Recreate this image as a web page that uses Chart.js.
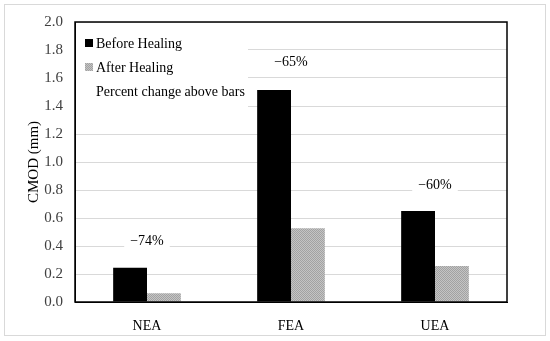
<!DOCTYPE html>
<html>
<head>
<meta charset="utf-8">
<script src="https://cdn.jsdelivr.net/npm/chart.js@4"></script>
<style>
  html, body { margin: 0; padding: 0; background: #fff; }
  #wrap { width: 550px; height: 341px; }
</style>
</head>
<body>
<div id="wrap"><canvas id="cmodChart" width="550" height="341"></canvas></div>
<script>
const categories = ['NEA', 'FEA', 'UEA'];
const beforeHealing = [0.245, 1.515, 0.65];
const afterHealing = [0.062, 0.526, 0.257];
const percentChange = ['\u221274%', '\u221265%', '\u221260%'];
const percentLabelY = [0.43, 1.71, 0.83];
const yTicks = [0, 0.2, 0.4, 0.6, 0.8, 1.0, 1.2, 1.4, 1.6, 1.8, 2.0];

const FONT = '"Liberation Serif", "Times New Roman", serif';

// checkered gray fill, like the dotted fill in the original
function makeDots() {
    const c = document.createElement('canvas');
    c.width = 2; c.height = 2;
    const g = c.getContext('2d');
    g.fillStyle = '#c4c4c4';
    g.fillRect(0, 0, 2, 2);
    g.fillStyle = '#a2a2a2';
    g.fillRect(0, 0, 1, 1);
    g.fillRect(1, 1, 1, 1);
    return g.createPattern(c, 'repeat');
}
const dots = makeDots();

const framePlugin = {
    id: 'frame',
    beforeDraw(chart) {
        const ctx = chart.ctx;
        ctx.save();
        ctx.fillStyle = '#fff';
        ctx.fillRect(0, 0, chart.width, chart.height);
        ctx.strokeStyle = '#d9d9d9';
        ctx.lineWidth = 1;
        ctx.strokeRect(4.5, 4.5, 541, 331);
        ctx.restore();
    },
    afterDatasetsDraw(chart) {
        const ctx = chart.ctx;
        const a = chart.chartArea;
        const y = chart.scales.y;
        const x = chart.scales.x;
        ctx.save();
        ctx.font = '14px ' + FONT;
        ctx.textBaseline = 'middle';

        // percent change labels, white box behind so grid lines break
        ctx.textAlign = 'center';
        percentChange.forEach((txt, i) => {
            const px = x.getPixelForValue(i);
            const py = y.getPixelForValue(percentLabelY[i]);
            const w = ctx.measureText(txt).width;
            ctx.fillStyle = '#fff';
            ctx.fillRect(px - w / 2 - 6, py - 8, w + 12, 16);
            ctx.fillStyle = '#000';
            ctx.fillText(txt, px, py);
        });

        // legend inside the plot, top left
        ctx.textAlign = 'left';
        const lx = a.left + 10;
        const rows = [
            { text: 'Before Healing', fill: '#000' },
            { text: 'After Healing', fill: dots },
            { text: 'Percent change above bars', fill: null }
        ];
        ctx.fillStyle = '#fff';
        ctx.fillRect(a.left + 1, a.top + 10, 172, 80);
        rows.forEach((r, i) => {
            const ry = a.top + 21 + i * 24;
            if (r.fill) {
                ctx.fillStyle = r.fill;
                ctx.fillRect(lx, ry - 4, 8, 8);
            }
            ctx.fillStyle = '#000';
            ctx.fillText(r.text, lx + 11, ry + 1);
        });

        // black plot border
        ctx.strokeStyle = '#000';
        ctx.lineWidth = 1.5;
        ctx.strokeRect(a.left, a.top, a.right - a.left, a.bottom - a.top);
        ctx.restore();
    }
};

const ctx = document.getElementById('cmodChart').getContext('2d');
new Chart(ctx, {
    type: 'bar',
    data: {
        labels: categories,
        datasets: [{
            label: 'Before Healing',
            data: beforeHealing,
            backgroundColor: '#000',
            categoryPercentage: 0.47,
            barPercentage: 1.0
        }, {
            label: 'After Healing',
            data: afterHealing,
            backgroundColor: dots,
            categoryPercentage: 0.47,
            barPercentage: 1.0
        }]
    },
    options: {
        responsive: false,
        animation: false,
        layout: { padding: { left: 25, right: 43, top: 22, bottom: 8 } },
        plugins: {
            legend: { display: false },
            tooltip: { enabled: false }
        },
        scales: {
            x: {
                grid: { display: false },
                border: { display: true, color: '#000' },
                ticks: { color: '#000', font: { family: FONT, size: 14 }, padding: 8 },
                afterFit: s => { s.height = 31; }
            },
            y: {
                min: 0,
                max: 2,
                afterBuildTicks: s => { s.ticks = yTicks.map(v => ({ value: v })); },
                ticks: {
                    color: '#404040',
                    font: { family: FONT, size: 15 },
                    padding: 12,
                    callback: v => v.toFixed(1)
                },
                grid: { color: '#d9d9d9', drawTicks: false },
                border: { display: true, color: '#000' },
                title: {
                    display: true,
                    text: 'CMOD (mm)',
                    color: '#000',
                    font: { family: FONT, size: 15 },
                    padding: { top: 0, bottom: 0 }
                },
                afterFit: s => { s.width = 50; }
            }
        }
    },
    plugins: [framePlugin]
});
</script>
</body>
</html>
